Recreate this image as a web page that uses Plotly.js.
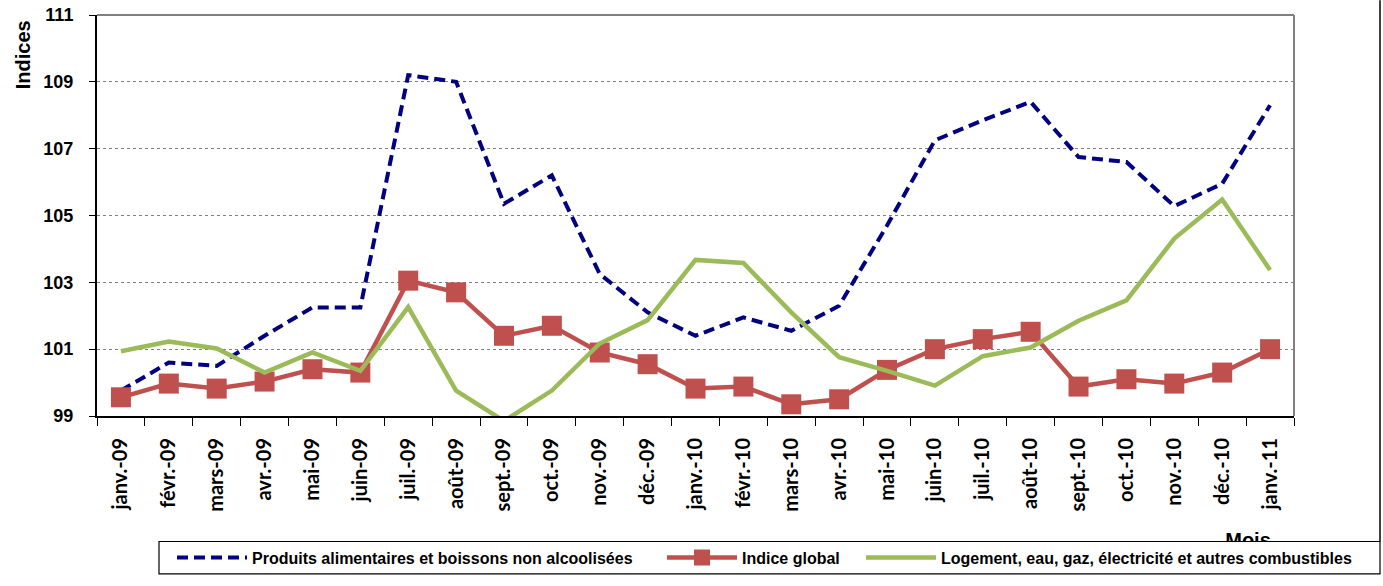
<!DOCTYPE html>
<html>
<head>
<meta charset="utf-8">
<script src="https://cdn.plot.ly/plotly-3.0.1.min.js"></script>
<style>html,body{margin:0;padding:0;background:#fff;}#chart{width:1383px;height:586px;}</style>
</head>
<body>
<div id="chart"></div>
<script>
const months = ["janv.-09","févr.-09","mars-09","avr.-09","mai-09","juin-09","juil.-09","août-09","sept.-09","oct.-09","nov.-09","déc.-09",
  "janv.-10","févr.-10","mars-10","avr.-10","mai-10","juin-10","juil.-10","août-10","sept.-10","oct.-10","nov.-10","déc.-10","janv.-11"];
const alimentaires = [99.76,100.6,100.5,101.4,102.25,102.25,109.2,109.0,105.35,106.2,103.25,102.1,
  101.4,101.95,101.55,102.3,104.7,107.25,107.85,108.4,106.75,106.6,105.28,105.95,108.3];
const indiceGlobal = [99.56,99.97,99.82,100.03,100.4,100.3,103.05,102.7,101.4,101.7,100.9,100.55,
  99.82,99.88,99.35,99.5,100.38,101.0,101.3,101.52,99.88,100.1,99.97,100.3,101.0];
const logement = [100.94,101.23,101.02,100.3,100.9,100.35,102.26,99.76,98.85,99.76,101.17,101.87,
  103.67,103.58,102.1,100.76,100.35,99.91,100.79,101.05,101.85,102.46,104.31,105.48,103.37];
const yTicks = [99,101,103,105,107,109,111];
const names = ["Produits alimentaires et boissons non alcoolisées","Indice global","Logement, eau, gaz, électricité et autres combustibles"];

// plot area in pixels: x 97..1294, y 15..424
const PX = {l: 97, r: 1294, t: 15, b: 424};
const px2x = v => (v - PX.l) / (PX.r - PX.l);
const px2y = v => (PX.b - v) / (PX.b - PX.t);

const traces = [
  {x: months, y: alimentaires, name: names[0], type: 'scatter', mode: 'lines', legend: 'legend',
   line: {color: '#000080', width: 4, dash: '11px,6px'}},
  {x: months, y: indiceGlobal, name: names[1], type: 'scatter', mode: 'lines+markers', legend: 'legend2',
   line: {color: '#C0504D', width: 4.5}, marker: {symbol: 'square', size: 20, color: '#C0504D'}},
  {x: months, y: logement, name: names[2], type: 'scatter', mode: 'lines', legend: 'legend3',
   line: {color: '#9BBB59', width: 4.5}}
];

const legFont = {family: 'Liberation Sans, Arial, sans-serif', size: 16, weight: 'bold', color: '#000'};
const legBase = {orientation: 'h', yanchor: 'middle', xanchor: 'left', y: px2y(568.5),
  bgcolor: 'rgba(0,0,0,0)', borderwidth: 0, itemwidth: 70, font: legFont};

const layout = {
  width: 1383, height: 586,
  margin: {l: 97, r: 89, t: 15, b: 162},
  paper_bgcolor: '#fff', plot_bgcolor: '#fff',
  showlegend: true,
  font: {family: 'Liberation Sans, Arial, sans-serif', color: '#000'},
  xaxis: {
    type: 'category', tickson: 'boundaries', ticks: 'outside', ticklen: 8, tickcolor: '#000', tickwidth: 1,
    showline: true, linecolor: '#000', linewidth: 2, showgrid: false, zeroline: false,
    tickangle: -90, ticklabelstandoff: 12,
    tickfont: {family: 'Lato, sans-serif', size: 20, weight: 'bold', color: '#000'},
    range: [-0.5, 24.5], fixedrange: true
  },
  yaxis: {
    range: [99, 111], tickvals: yTicks, ticktext: yTicks.map(String),
    ticks: 'outside', ticklen: 6, tickcolor: '#000', ticklabelstandoff: 12,
    showline: true, linecolor: '#000', linewidth: 2,
    showgrid: true, gridcolor: '#808080', griddash: 'dot', gridwidth: 1, zeroline: false,
    tickfont: {family: 'Liberation Sans, Arial, sans-serif', size: 18, weight: 'bold', color: '#000'}
  },
  legend: Object.assign({}, legBase, {x: px2x(172)}),
  legend2: Object.assign({}, legBase, {x: px2x(662)}),
  legend3: Object.assign({}, legBase, {x: px2x(861)}),
  annotations: [
    {text: 'Indices', textangle: -90, xref: 'paper', yref: 'paper', x: px2x(22.5), y: px2y(55.5),
     xanchor: 'center', yanchor: 'middle', showarrow: false,
     font: {family: 'Liberation Sans, Arial, sans-serif', size: 20, weight: 'bold', color: '#000'}}
  ],
  shapes: [
    {type: 'line', xref: 'paper', yref: 'paper', x0: 0, x1: 1, y0: 1, y1: 1, line: {color: '#808080', width: 2}},
    {type: 'line', xref: 'paper', yref: 'paper', x0: 1, x1: 1, y0: 0, y1: 1, line: {color: '#808080', width: 2}},
    {type: 'line', xref: 'paper', yref: 'paper', x0: px2x(1380), x1: px2x(1380), y0: px2y(552), y1: px2y(0), line: {color: '#000', width: 1.5}},
    {type: 'rect', xref: 'paper', yref: 'paper', x0: px2x(1210), x1: px2x(1286), y0: px2y(562), y1: px2y(534),
     line: {width: 0}, fillcolor: 'rgba(0,0,0,0)',
     label: {text: '<b>Mois</b>', textposition: 'middle center',
             font: {family: 'Liberation Sans, Arial, sans-serif', size: 20, color: '#000'}}},
    {type: 'rect', xref: 'paper', yref: 'paper', x0: px2x(159), x1: px2x(1380), y0: px2y(585), y1: px2y(552),
     line: {color: '#000', width: 1.2}, fillcolor: '#fff'}
  ]
};

Plotly.newPlot('chart', traces, layout, {staticPlot: true});
</script>
</body>
</html>
